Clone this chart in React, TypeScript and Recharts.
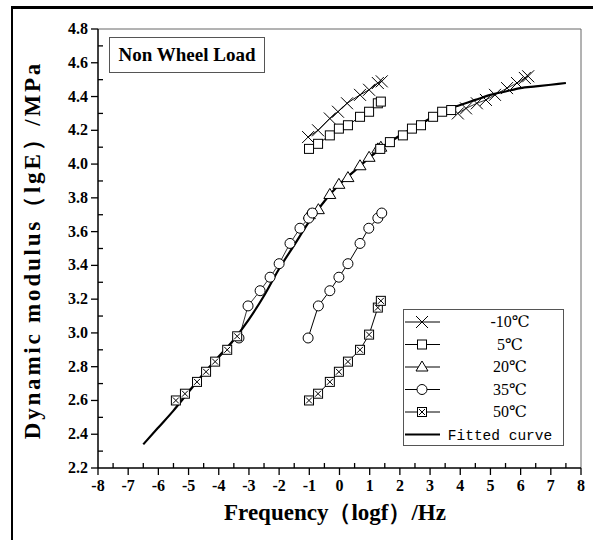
import React from "react";
import {
    ComposedChart,
    Line,
    Scatter,
    XAxis,
    YAxis,
    ReferenceLine,
} from "recharts";

// fitted master curve
const curveX = [-6.5, -6, -5.5, -5, -4.5, -4, -3.5, -3, -2.5, -2, -1.5, -1, -0.5, 0, 0.5, 1, 1.5, 2, 2.5, 3, 3.5, 4, 4.5, 5, 5.5, 6, 6.5, 7, 7.5];
const curveY = [2.34, 2.44, 2.54, 2.65, 2.76, 2.86, 2.96, 3.08, 3.22, 3.38, 3.52, 3.66, 3.78, 3.88, 3.96, 4.04, 4.11, 4.17, 4.22, 4.27, 4.32, 4.35, 4.38, 4.41, 4.43, 4.45, 4.46, 4.47, 4.48];

// measured points, original frequency
const m10X = [-1.04, -0.71, -0.32, -0.05, 0.25, 0.68, 0.98, 1.27, 1.4];
const m10Y = [4.16, 4.2, 4.27, 4.31, 4.36, 4.41, 4.44, 4.48, 4.49];
const p5X = [-1.01, -0.71, -0.32, -0.02, 0.28, 0.68, 0.98, 1.27, 1.37];
const p5Y = [4.09, 4.12, 4.17, 4.21, 4.23, 4.28, 4.31, 4.36, 4.37];
const p20X = [-1.0, -0.7, -0.32, -0.02, 0.28, 0.68, 0.98, 1.27, 1.37];
const p20Y = [3.7, 3.73, 3.82, 3.88, 3.92, 3.99, 4.04, 4.09, 4.1];
const p35X = [-1.04, -0.7, -0.32, -0.02, 0.28, 0.68, 0.97, 1.27, 1.4];
const p35Y = [2.97, 3.16, 3.25, 3.33, 3.41, 3.53, 3.62, 3.68, 3.71];
const p50X = [-1.01, -0.71, -0.32, -0.02, 0.28, 0.68, 0.98, 1.27, 1.37];
const p50Y = [2.6, 2.64, 2.71, 2.77, 2.83, 2.9, 2.99, 3.15, 3.19];

// shifted points on the master curve
const sm10X = [3.92, 4.19, 4.55, 4.85, 5.15, 5.55, 5.88, 6.14, 6.25];
const sm10Y = [4.3, 4.33, 4.36, 4.38, 4.41, 4.45, 4.48, 4.51, 4.52];
const s5X = [1.35, 1.67, 2.1, 2.4, 2.7, 3.1, 3.4, 3.7];
const s5Y = [4.09, 4.13, 4.17, 4.21, 4.23, 4.28, 4.31, 4.32];
const s35X = [-3.33, -3.03, -2.63, -2.3, -2.0, -1.64, -1.31, -1.02, -0.9];
const s35Y = [2.97, 3.16, 3.25, 3.33, 3.41, 3.53, 3.62, 3.68, 3.71];
const s50X = [-5.42, -5.12, -4.72, -4.42, -4.12, -3.72, -3.39];
const s50Y = [2.6, 2.64, 2.71, 2.77, 2.83, 2.9, 2.98];

const xTicks = [-8, -7.5, -7, -6.5, -6, -5.5, -5, -4.5, -4, -3.5, -3, -2.5, -2, -1.5, -1, -0.5, 0, 0.5, 1, 1.5, 2, 2.5, 3, 3.5, 4, 4.5, 5, 5.5, 6, 6.5, 7, 7.5, 8];
const yTicks = [2.2, 2.3, 2.4, 2.5, 2.6, 2.7, 2.8, 2.9, 3.0, 3.1, 3.2, 3.3, 3.4, 3.5, 3.6, 3.7, 3.8, 3.9, 4.0, 4.1, 4.2, 4.3, 4.4, 4.5, 4.6, 4.7, 4.8];

const legendNames = ["-10℃", "5℃", "20℃", "35℃", "50℃", "Fitted curve"];

const zip = (xs: number[], ys: number[]) => xs.map((x, i) => ({ x, y: ys[i] }));

const tickFont = "'Liberation Serif', 'DejaVu Serif', serif";
const serif = "'Liberation Serif', 'DejaVu Serif', serif";

const Cross = ({ cx, cy }: any) => (
    <g stroke="#000" strokeWidth={1}>
        <line x1={cx - 6} y1={cy - 6} x2={cx + 6} y2={cy + 6} />
        <line x1={cx - 6} y1={cy + 6} x2={cx + 6} y2={cy - 6} />
    </g>
);
const Square = ({ cx, cy }: any) => (
    <rect x={cx - 4.5} y={cy - 4.5} width={9} height={9} fill="#fff" stroke="#000" strokeWidth={1} />
);
const Tri = ({ cx, cy }: any) => (
    <path d={`M${cx},${cy - 6}L${cx + 6},${cy + 4}L${cx - 6},${cy + 4}Z`} fill="#fff" stroke="#000" strokeWidth={1} />
);
const Circ = ({ cx, cy }: any) => (
    <circle cx={cx} cy={cy} r={5} fill="#fff" stroke="#000" strokeWidth={1} />
);
const BoxX = ({ cx, cy }: any) => (
    <g stroke="#000" strokeWidth={1}>
        <rect x={cx - 4.5} y={cy - 4.5} width={9} height={9} fill="#fff" />
        <line x1={cx - 3} y1={cy - 3} x2={cx + 3} y2={cy + 3} />
        <line x1={cx - 3} y1={cy + 3} x2={cx + 3} y2={cy - 3} />
    </g>
);
const markers = [Cross, Square, Tri, Circ, BoxX];

const XTick = ({ x, y, payload }: any) => {
    const v = payload.value;
    const major = Number.isInteger(v);
    return (
        <g>
            <line x1={x} x2={x} y1={y} y2={major ? y + 7 : y - 5} stroke="#000" strokeWidth={1.3} />
            {major && (
                <text x={x} y={y + 23} textAnchor="middle" fontFamily={tickFont} fontWeight="bold" fontSize={16} fill="#000">
                    {v}
                </text>
            )}
        </g>
    );
};

const YTick = ({ x, y, payload }: any) => {
    const v = payload.value;
    const major = Math.round(v * 10) % 2 === 0;
    return (
        <g>
            <line x1={x} x2={major ? x - 7 : x + 5} y1={y} y2={y} stroke="#000" strokeWidth={1.3} />
            {major && (
                <text x={x - 10} y={y + 5} textAnchor="end" fontFamily={tickFont} fontWeight="bold" fontSize={16} fill="#000">
                    {v.toFixed(1)}
                </text>
            )}
        </g>
    );
};

const LegendBox = () => (
    <svg width={162} height={138} style={{ display: "block" }}>
        <rect x={0.5} y={0.5} width={160} height={136} fill="#fff" stroke="#555" />
        {legendNames.map((name, i) => {
            const cy = 13 + i * 22.5;
            const M = markers[i];
            return (
                <g key={name}>
                    <line x1={2} x2={37} y1={cy} y2={cy} stroke="#000" strokeWidth={i === 5 ? 2 : 1} />
                    {M && <M cx={19} cy={cy} />}
                    <text
                        x={i === 5 ? 97 : 107}
                        y={cy + 5}
                        textAnchor="middle"
                        fontFamily={i === 5 ? "'Liberation Mono', monospace" : serif}
                        fontSize={i === 5 ? 14.5 : 16}
                        fill="#000"
                    >
                        {name}
                    </text>
                </g>
            );
        })}
    </svg>
);

export default function App() {
    const curve = zip(curveX, curveY);
    const raw = [zip(m10X, m10Y), zip(p5X, p5Y), zip(p20X, p20Y), zip(p35X, p35Y), zip(p50X, p50Y)];
    const shifted = [zip(sm10X, sm10Y), zip(s5X, s5Y), null, zip(s35X, s35Y), zip(s50X, s50Y)];

    return (
        <div style={{ position: "absolute", left: 0, top: 0, width: 593, height: 540, background: "#fff", overflow: "hidden" }}>
            <div
                style={{
                    position: "absolute",
                    left: 11,
                    top: 6,
                    width: 600,
                    height: 600,
                    borderLeft: "2px solid #000",
                    borderTop: "3px solid #000",
                }}
            />
            <ComposedChart
                width={593}
                height={540}
                margin={{ top: 29, right: 12, bottom: 32, left: 38 }}
                style={{ position: "absolute", left: 0, top: 0 }}
            >
                <XAxis
                    dataKey="x"
                    type="number"
                    domain={[-8, 8]}
                    ticks={xTicks}
                    interval={0}
                    tickSize={0}
                    tickMargin={0}
                    tick={<XTick />}
                    axisLine={{ stroke: "#000", strokeWidth: 1.5 }}
                    height={40}
                    allowDataOverflow
                />
                <YAxis
                    dataKey="y"
                    type="number"
                    domain={[2.2, 4.8]}
                    ticks={yTicks}
                    interval={0}
                    tickSize={0}
                    tickMargin={0}
                    tick={<YTick />}
                    axisLine={{ stroke: "#000", strokeWidth: 1.5 }}
                    width={60}
                    allowDataOverflow
                />
                <ReferenceLine y={4.8} stroke="#666" strokeWidth={1} />
                <ReferenceLine x={8} stroke="#666" strokeWidth={1} />
                <Line
                    data={curve}
                    dataKey="y"
                    type="monotone"
                    stroke="#000"
                    strokeWidth={2.2}
                    dot={false}
                    activeDot={false}
                    isAnimationActive={false}
                />
                {raw.map((d, i) => {
                    const M = markers[i];
                    return (
                        <Scatter
                            key={"r" + i}
                            data={d}
                            dataKey="y"
                            line={{ stroke: "#000", strokeWidth: 1 }}
                            lineType="joint"
                            shape={(p: any) => <M cx={p.cx} cy={p.cy} />}
                            isAnimationActive={false}
                        />
                    );
                })}
                {shifted.map((d, i) => {
                    if (!d) return null;
                    const M = markers[i];
                    return (
                        <Scatter
                            key={"s" + i}
                            data={d}
                            dataKey="y"
                            line={{ stroke: "#000", strokeWidth: 0.8 }}
                            lineType="joint"
                            shape={(p: any) => <M cx={p.cx} cy={p.cy} />}
                            isAnimationActive={false}
                        />
                    );
                })}
            </ComposedChart>
            <div style={{ position: "absolute", left: 403, top: 309 }}>
                <LegendBox />
            </div>
            <div
                style={{
                    position: "absolute",
                    left: 109,
                    top: 37,
                    width: 156,
                    height: 36,
                    border: "1px solid #555",
                    boxSizing: "border-box",
                    display: "flex",
                    alignItems: "center",
                    justifyContent: "center",
                    fontFamily: serif,
                    fontWeight: "bold",
                    fontSize: 19,
                    background: "#fff",
                }}
            >
                Non Wheel Load
            </div>
            <div
                style={{
                    position: "absolute",
                    left: 32,
                    top: 250,
                    transform: "translate(-50%, -50%) rotate(-90deg)",
                    whiteSpace: "nowrap",
                    fontFamily: serif,
                    fontWeight: "bold",
                    fontSize: 23,
                    letterSpacing: 2.8,
                }}
            >
                Dynamic modulus（lgE）/MPa
            </div>
            <div
                style={{
                    position: "absolute",
                    left: 335,
                    top: 512,
                    transform: "translate(-50%, -50%)",
                    whiteSpace: "nowrap",
                    fontFamily: serif,
                    fontWeight: "bold",
                    fontSize: 23,
                }}
            >
                Frequency（logf）/Hz
            </div>
        </div>
    );
}
